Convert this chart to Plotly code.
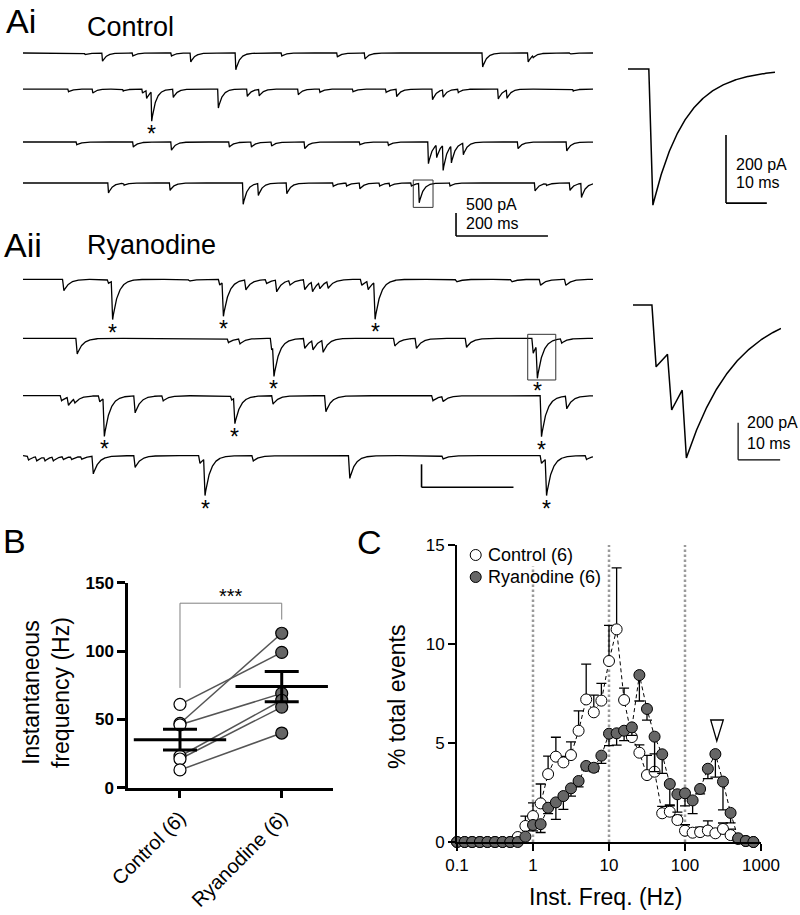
import numpy as np
import plotly.graph_objects as go

FONT = "Arial, Liberation Sans, sans-serif"
W, H = 800, 915

# ---------------- panel A : events (peak time ms, amplitude pA)
ctrl_times = [
    [135, 173, 239, 323, 365, 463, 563, 684, 744, 1000, 1099, 1110, 1190],
    [99, 152, 218, 260, 269, 280, 327, 425, 488, 514, 599, 646, 718, 790, 813, 891, 914, 947, 1034, 1053, 1197],
    [117, 240, 323, 449, 497, 541, 613, 733, 795, 882, 900, 914, 932, 958, 1077, 1183],
    [186, 220, 320, 479, 512, 574, 675, 704, 733, 776, 798, 845, 862, 929, 1114, 1139, 1190, 1215],
]
ctrl_amps = [
    [37, 180, 65, 65, 196, 363, 65, 87, 130, 304, 196, 43, 22],
    [59, 87, 43, 87, 174, 640, 180, 413, 159, 140, 124, 72, 59, 72, 159, 233, 161, 72, 217, 176, 43],
    [59, 109, 180, 109, 109, 87, 146, 59, 72, 472, 276, 545, 370, 250, 146, 196],
    [217, 43, 159, 463, 260, 233, 72, 65, 124, 65, 65, 65, 420, 65, 174, 43, 159, 304],
]
ryan_times = [
    [89, 186, 195, 362, 428, 436, 485, 530, 552, 581, 613, 630, 646, 664, 737, 751, 766, 943, 1063, 1126, 1181],
    [118, 447, 472, 541, 546, 613, 631, 653, 809, 856, 965, 1110, 1119, 1172],
    [84, 99, 113, 167, 177, 244, 305, 454, 461, 544, 659, 892, 914, 1128, 1183],
    [12, 30, 48, 66, 88, 106, 128, 153, 244, 385, 396, 501, 711, 914, 1128, 1139, 1226],
]
ryan_amps = [
    [246, 87, 835, 43, 124, 740, 217, 87, 257, 102, 217, 214, 135, 150, 130, 185, 805, 59, 59, 130, 130],
    [341, 93, 109, 254, 660, 217, 203, 265, 167, 217, 196, 326, 715, 93],
    [109, 178, 93, 130, 828, 370, 109, 93, 556, 180, 348, 109, 109, 891, 276],
    [93, 93, 87, 87, 65, 65, 65, 385, 254, 167, 800, 115, 493, 72, 167, 800, 80],
]
# events marked with an asterisk, per sweep
ctrl_stars = {1: [280]}
ryan_stars = {0: [195, 436, 766], 1: [546, 1119], 2: [177, 461, 1128], 3: [396, 1139]}

# expanded events (insets)
inset_ctrl_times = [0]
inset_ctrl_amps = [400]
inset_ryan_times = [0.8, 4.5, 8.0]
inset_ryan_amps = [335, 322, 404]

# ---------------- panel B
groups = ["Control (6)", "Ryanodine (6)"]
ctrl_freq = [61, 47, 46, 23, 21, 13]
ryan_freq = [99, 113, 69, 64, 59, 40]

# ---------------- panel C
freq_bins = [0.1, 0.126, 0.158, 0.2, 0.251, 0.316, 0.398, 0.501, 0.631, 0.794,
             1, 1.26, 1.58, 2, 2.51, 3.16, 3.98, 5.01, 6.31, 7.94,
             10, 12.6, 15.8, 20, 25.1, 31.6, 39.8, 50.1, 63.1, 79.4,
             100, 126, 158, 200, 251, 316, 398, 501, 631, 794]
ctrl_pct = [0, 0, 0, 0, 0, 0, 0, 0, 0.25, 0.81,
            1.31, 1.95, 3.43, 4.31, 4.02, 4.39, 5.62, 7.2, 6.55, 7.14,
            9.14, 10.74, 7.17, 5.3, 4.51, 3.38, 3.55, 1.45, 1.53, 1.11,
            0.57, 0.47, 0.5, 0.58, 0.44, 0.66, 0.35, 0.15, 0.05, 0]
ctrl_sem = [0, 0, 0, 0, 0, 0, 0, 0, 0.1, 0.5,
            0.67, 0.98, 0.91, 0.98, 0.3, 0.67, 1.0, 1.78, 0.87, 0.87,
            1.8, 3.1, 0.6, 0.5, 0.4, 1.0, 0.9, 0.35, 0.3, 0.25,
            0.3, 0.2, 0.25, 0.49, 0.2, 0.3, 0.3, 0.1, 0, 0]
ryan_pct = [0, 0, 0, 0, 0, 0, 0, 0, 0, 0.27,
            0.86, 0.9, 1.73, 2.0, 2.32, 2.71, 3.08, 3.84, 3.75, 4.36,
            5.47, 5.49, 5.62, 5.79, 8.43, 6.72, 5.32, 4.43, 2.93, 2.41,
            2.46, 2.1, 2.68, 3.7, 4.44, 3.05, 1.47, 0.19, 0.05, 0]
ryan_sem = [0, 0, 0, 0, 0, 0, 0, 0, 0, 0.1,
            0.3, 0.42, 0.3, 0.86, 0.67, 0.39, 0.3, 0.2, 0.2, 0.39,
            0.6, 0.6, 0.5, 0.4, 1.31, 0.56, 1.77, 0.96, 1.06, 0.9,
            0.64, 0.67, 0.25, 0.5, 1.16, 1.43, 0.5, 0.1, 0, 0]
ref_freqs = [1, 10, 100]


def dom_x(a, b):
    return [a / W, b / W]


def dom_y(top, bottom):
    return [1 - bottom / H, 1 - top / H]


def sweep(t, times, amps, tau, rise):
    # sum of fast-rising, exponentially decaying inward currents
    y = np.zeros_like(t)
    for t0, a in zip(times, amps):
        dt = t - t0
        ramp = np.clip((dt + rise) / rise, 0, 1)
        decay = np.exp(-np.clip(dt, 0, None) / tau)
        y -= a * np.where(dt < 0, ramp, decay)
    return y


fig = go.Figure()
anns = []
shapes = []

t = np.arange(0, 1240.5, 0.5)
ctrl_offsets = [0, -783, -1935, -2826]
ryan_offsets = [0, -1283, -2531, -3835]


def add_sweeps(times, amps, offsets, tau, rise, xa, ya, stars):
    for row, (tt, aa) in enumerate(zip(times, amps)):
        y = sweep(t, tt, aa, tau, rise) + offsets[row]
        fig.add_trace(go.Scatter(x=t, y=np.round(y, 1), mode="lines",
                                 line=dict(color="black", width=1.3),
                                 xaxis=xa, yaxis=ya, hoverinfo="skip"))
        for ts in stars.get(row, []):
            win = (t > ts - 4) & (t < ts + 4)
            anns.append(dict(x=ts, y=float(y[win].min()), xref=xa, yref=ya, text="*",
                             showarrow=False, yanchor="top", yshift=2,
                             font=dict(size=23, color="black")))


add_sweeps(ctrl_times, ctrl_amps, ctrl_offsets, 9, 1.5, "x", "y", ctrl_stars)
add_sweeps(ryan_times, ryan_amps, ryan_offsets, 12, 3, "x3", "y3", ryan_stars)

ti = np.arange(-6.1, 29.95, 0.1)
fig.add_trace(go.Scatter(x=ti, y=sweep(ti, inset_ctrl_times, inset_ctrl_amps, 8, 1),
                         mode="lines", line=dict(color="black", width=1.5),
                         xaxis="x2", yaxis="y2", hoverinfo="skip"))
tr = np.arange(-4.7, 30.55, 0.1)
fig.add_trace(go.Scatter(x=tr, y=sweep(tr, inset_ryan_times, inset_ryan_amps, 12, 1),
                         mode="lines", line=dict(color="black", width=1.5),
                         xaxis="x4", yaxis="y4", hoverinfo="skip"))

# scale bars (x0, y0 = corner; dx ms, dy pA)
def scalebar(xa, ya, x0, y0, dx, dy, w=1.6):
    shapes.append(dict(type="line", xref=xa, yref=ya, x0=x0, x1=x0, y0=y0, y1=y0 + dy,
                       line=dict(color="black", width=w)))
    shapes.append(dict(type="line", xref=xa, yref=ya, x0=x0, x1=x0 + dx, y0=y0, y1=y0,
                       line=dict(color="black", width=w)))


scalebar("x", "y", 942, -3978, 200, 500)
scalebar("x2", "y2", 17.9, -394, 10, 200)
scalebar("x3", "y3", 867, -4522, 200, 500)
scalebar("x4", "y4", 20.3, -838, 10, 200, 1.2)

# boxes around the expanded events
box_c = ctrl_times[3][12]
shapes.append(dict(type="rect", xref="x", yref="y", x0=box_c - 13, x1=box_c + 30,
                   y0=ctrl_offsets[3] + 65, y1=ctrl_offsets[3] - ctrl_amps[3][12] - 110,
                   line=dict(color="#333333", width=1)))
box_r = ryan_times[1][12]
shapes.append(dict(type="rect", xref="x3", yref="y3", x0=box_r - 21, x1=box_r + 40,
                   y0=ryan_offsets[1] + 87, y1=ryan_offsets[1] - 906,
                   line=dict(color="#333333", width=1)))

# ---------------- panel B
for c, r in zip(ctrl_freq, ryan_freq):
    fig.add_trace(go.Scatter(x=[0, 1], y=[c, r], mode="lines",
                             line=dict(color="#555555", width=1.5),
                             xaxis="x5", yaxis="y5", hoverinfo="skip"))
fig.add_trace(go.Scatter(x=[0] * len(ctrl_freq), y=ctrl_freq, mode="markers",
                         marker=dict(size=12, color="white", line=dict(color="black", width=1.2)),
                         xaxis="x5", yaxis="y5", cliponaxis=False))
fig.add_trace(go.Scatter(x=[1] * len(ryan_freq), y=ryan_freq, mode="markers",
                         marker=dict(size=12, color="#666666", line=dict(color="black", width=1.2)),
                         xaxis="x5", yaxis="y5", cliponaxis=False))
means = [np.mean(ctrl_freq), np.mean(ryan_freq)]
sems = [np.std(ctrl_freq, ddof=1) / np.sqrt(len(ctrl_freq)),
        np.std(ryan_freq, ddof=1) / np.sqrt(len(ryan_freq))]
fig.add_trace(go.Scatter(x=[0, 1], y=means, mode="markers",
                         marker=dict(symbol="line-ew", size=66, color="black",
                                     line=dict(color="black", width=3)),
                         error_y=dict(type="data", array=sems, width=17, thickness=3, color="black"),
                         xaxis="x5", yaxis="y5", cliponaxis=False))
fig.add_trace(go.Scatter(x=[0, 0, 1, 1], y=[73, 135, 135, 123], mode="lines",
                         line=dict(color="#808080", width=1),
                         xaxis="x5", yaxis="y5", hoverinfo="skip"))
anns.append(dict(x=0.5, y=140, xref="x5", yref="y5", text="***", showarrow=False,
                 font=dict(size=20, color="black")))

# ---------------- panel C
for f in ref_freqs:
    fig.add_trace(go.Scatter(x=[f, f], y=[0, 15], mode="lines",
                             line=dict(color="#9a9a9a", width=2.5, dash="2.5px,2.5px"),
                             xaxis="x6", yaxis="y6", hoverinfo="skip"))
zeros = [0] * len(freq_bins)
fig.add_trace(go.Scatter(x=freq_bins, y=ctrl_pct, mode="lines+markers", name="Control (6)",
                         line=dict(color="black", width=1, dash="4px,3px"),
                         marker=dict(size=11, color="white", line=dict(color="black", width=1)),
                         error_y=dict(type="data", symmetric=False, array=ctrl_sem, arrayminus=zeros,
                                      width=5, thickness=1.3, color="black"),
                         xaxis="x6", yaxis="y6", cliponaxis=False))
fig.add_trace(go.Scatter(x=freq_bins, y=ryan_pct, mode="lines+markers", name="Ryanodine (6)",
                         line=dict(color="black", width=1, dash="4px,3px"),
                         marker=dict(size=11, color="#666666", line=dict(color="black", width=1)),
                         error_y=dict(type="data", symmetric=False, array=zeros, arrayminus=ryan_sem,
                                      width=5, thickness=1.3, color="black"),
                         xaxis="x6", yaxis="y6", cliponaxis=False))


def P(x, y):
    return x / W, 1 - y / H


# open triangle above the ~250 Hz peak
(ax, ay), (bx, by), (cx, cy) = P(710.7, 720), P(723.3, 720), P(716.8, 741)
shapes.append(dict(type="path", xref="paper", yref="paper",
                   path=f"M {ax},{ay} L {bx},{by} L {cx},{cy} Z",
                   line=dict(color="black", width=1.3), fillcolor="white"))

# legend of C
for (lx, ly), fill in [(P(475.7, 555), "white"), (P(475.7, 577), "#666666")]:
    shapes.append(dict(type="circle", xref="paper", yref="paper", xsizemode="pixel",
                       ysizemode="pixel", xanchor=lx, yanchor=ly, x0=-5.5, x1=5.5, y0=-5.5, y1=5.5,
                       fillcolor=fill, line=dict(color="black", width=1)))


def label(text, x, y, size, xanchor="left", angle=0, bg=None, yanchor="middle"):
    lx, ly = P(x, y)
    d = dict(x=lx, y=ly, xref="paper", yref="paper", text=text, showarrow=False,
             xanchor=xanchor, yanchor=yanchor, textangle=angle,
             font=dict(size=size, color="black", family=FONT))
    if bg:
        d["bgcolor"] = bg
    anns.append(d)


label("Ai", 4, 0, 34, yanchor="top")
label("Control", 85, 27, 27)
label("Aii", 2, 245, 34)
label("Ryanodine", 85, 245, 27)
label("B", 1, 541, 34)
label("C", 355, 542, 34)
label("500 pA", 464, 204, 16)
label("200 ms", 464, 223, 16)
label("200 pA", 734, 164, 16)
label("10 ms", 734, 183, 16)
label("200 pA", 745, 422, 16)
label("10 ms", 745, 443, 16)
label("Instantaneous<br>frequency (Hz)", 46, 693, 23, "center", -90)
label("% total events", 397, 697, 23, "center", -90)
label("Inst. Freq. (Hz)", 605, 897, 23, "center")
label("Control (6)", 486, 555, 18, bg="white")
label("Ryanodine (6)", 486, 577, 18)

hidden = dict(visible=False, showgrid=False, zeroline=False, fixedrange=True, automargin=False)
axis_b = dict(showline=True, linecolor="black", ticks="outside", tickcolor="black",
              showgrid=False, zeroline=False, fixedrange=True, automargin=False)

fig.update_layout(
    width=W, height=H, margin=dict(l=0, r=0, t=0, b=0, pad=0, autoexpand=False),
    paper_bgcolor="white", plot_bgcolor="white", showlegend=False,
    font=dict(family=FONT, color="black"),
    xaxis=dict(hidden, domain=dom_x(23, 593), range=[0, 1240], anchor="y"),
    yaxis=dict(hidden, domain=dom_y(40, 240), range=[-4065, 283], anchor="x"),
    xaxis2=dict(hidden, domain=dom_x(628, 775), range=[-6.1, 29.9], anchor="y2"),
    yaxis2=dict(hidden, domain=dom_y(60, 215), range=[-429, 26.5], anchor="x2"),
    xaxis3=dict(hidden, domain=dom_x(23, 593), range=[0, 1240], anchor="y3"),
    yaxis3=dict(hidden, domain=dom_y(265, 500), range=[-4798, 311], anchor="x3"),
    xaxis4=dict(hidden, domain=dom_x(633, 781), range=[-4.7, 30.5], anchor="y4"),
    yaxis4=dict(hidden, domain=dom_y(290, 470), range=[-893, 81], anchor="x4"),
    xaxis5=dict(axis_b, domain=dom_x(128, 332.7), range=[-0.511, 1.501], anchor="y5",
                tickvals=[0, 1], ticktext=groups, tickangle=-45, ticklen=8, tickwidth=2.5,
                linewidth=2.5, tickfont=dict(size=20)),
    yaxis5=dict(axis_b, domain=dom_y(582.7, 787.7), range=[0, 150], anchor="x5",
                tickvals=[0, 50, 100, 150], ticklen=8, tickwidth=2.5, linewidth=2.5,
                tickfont=dict(size=17, weight="bold")),
    xaxis6=dict(axis_b, type="log", domain=dom_x(457, 761), range=[-1, 3], anchor="y6",
                tickvals=[0.1, 1, 10, 100, 1000], ticktext=["0.1", "1", "10", "100", "1000"],
                ticklen=7, tickwidth=2, linewidth=2, tickfont=dict(size=17)),
    yaxis6=dict(axis_b, domain=dom_y(545, 842), range=[0, 15], anchor="x6",
                tickvals=[0, 5, 10, 15], ticklen=7, tickwidth=2, linewidth=2,
                tickfont=dict(size=17)),
    shapes=shapes,
    annotations=anns,
)

fig.write_html("out.html", config={"displayModeBar": False},
               post_script="document.body.style.margin='0px';")
